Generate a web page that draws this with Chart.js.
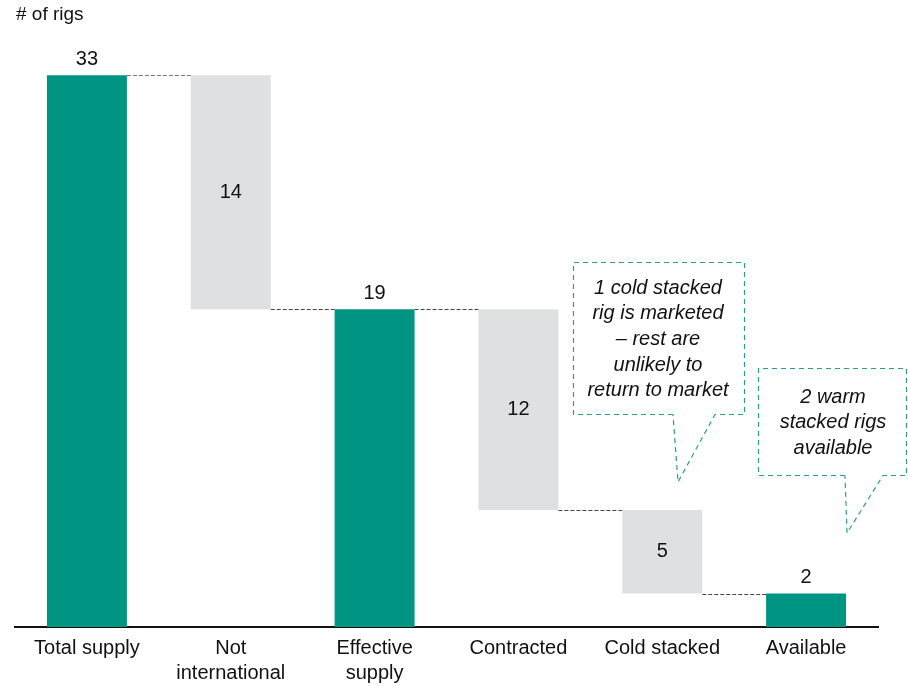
<!DOCTYPE html>
<html>
<head>
<meta charset="utf-8">
<script src="https://cdn.jsdelivr.net/npm/chart.js@4/dist/chart.umd.min.js"></script>
<style>
  html, body { margin: 0; padding: 0; background: #fff; }
  #wrap { width: 908px; height: 686px; position: relative; }
</style>
</head>
<body>
<div id="wrap"><canvas id="myChart"></canvas></div>
<script>
var categories = [['Total supply'], ['Not', 'international'], ['Effective', 'supply'], ['Contracted'], ['Cold stacked'], ['Available']];
var values = [33, -14, 19, -12, -5, 2];
var isTotal = [true, false, true, false, false, true];
var valueLabels = ['33', '14', '19', '12', '5', '2'];
var notes = [
    ['1 cold stacked', 'rig is marketed', '\u2013 rest are', 'unlikely to', 'return to market'],
    ['2 warm', 'stacked rigs', 'available']
];

var teal = '#009482';
var grey = '#dee0e1';
var font = '"Liberation Sans", Arial, sans-serif';

// build floating ranges for the waterfall
var ranges = [];
var level = 0;
for (var i = 0; i < values.length; i++) {
    if (isTotal[i]) {
        ranges.push([0, values[i]]);
        level = values[i];
    } else {
        ranges.push([level + values[i], level]);
        level = level + values[i];
    }
}

function drawNote(ctx, lines, box, tail, cx, cy) {
    ctx.save();
    ctx.strokeStyle = '#2a9d8f';
    ctx.lineWidth = 1.2;
    ctx.setLineDash([5, 4]);
    ctx.beginPath();
    ctx.moveTo(tail[0], box[3]);
    ctx.lineTo(box[0], box[3]);
    ctx.lineTo(box[0], box[1]);
    ctx.lineTo(box[2], box[1]);
    ctx.lineTo(box[2], box[3]);
    ctx.lineTo(tail[2], box[3]);
    ctx.lineTo(tail[4], tail[5]);
    ctx.lineTo(tail[0], box[3]);
    ctx.stroke();
    ctx.setLineDash([]);
    ctx.fillStyle = '#111';
    ctx.font = 'italic 20px ' + font;
    ctx.textAlign = 'center';
    ctx.textBaseline = 'middle';
    for (var k = 0; k < lines.length; k++) {
        ctx.fillText(lines[k], cx, cy + k * 25.7);
    }
    ctx.restore();
}

var extras = {
    id: 'extras',
    afterDatasetsDraw: function (chart) {
        var ctx = chart.ctx;
        var x = chart.scales.x, y = chart.scales.y;
        var meta = chart.getDatasetMeta(0);
        ctx.save();
        // connectors
        ctx.lineWidth = 1;
        ctx.setLineDash([4, 2]);
        for (var i = 0; i < ranges.length - 1; i++) {
            var b1 = meta.data[i], b2 = meta.data[i + 1];
            var lv = isTotal[i] ? ranges[i][1] : ranges[i][0];
            var py = Math.round(y.getPixelForValue(lv)) + 0.5;
            ctx.strokeStyle = i === 0 ? '#777' : '#444';
            ctx.beginPath();
            ctx.moveTo(b1.x + b1.width / 2, py);
            ctx.lineTo(b2.x - b2.width / 2, py);
            ctx.stroke();
        }
        ctx.setLineDash([]);
        // value labels
        ctx.fillStyle = '#111';
        ctx.font = '20px ' + font;
        ctx.textAlign = 'center';
        ctx.textBaseline = 'middle';
        for (var j = 0; j < ranges.length; j++) {
            var bx = meta.data[j].x;
            if (isTotal[j]) {
                ctx.fillText(valueLabels[j], bx, y.getPixelForValue(ranges[j][1]) - 16);
            } else {
                ctx.fillText(valueLabels[j], bx, y.getPixelForValue((ranges[j][0] + ranges[j][1]) / 2));
            }
        }
        // unit label
        ctx.textAlign = 'left';
        ctx.font = '19px ' + font;
        ctx.fillText('# of rigs', 16, 15);
        ctx.restore();

        // callouts
        drawNote(ctx, notes[0], [573.5, 262.5, 744.5, 414.5], [673, 0, 715, 0, 678, 482], 658, 288);
        drawNote(ctx, notes[1], [758.5, 368.5, 906.5, 475.5], [845, 0, 883, 0, 847, 533], 833, 397);
    }
};

var ctx = document.getElementById('myChart');
var myChart = new Chart(ctx, {
    type: 'bar',
    data: {
        labels: categories,
        datasets: [{
            data: ranges,
            backgroundColor: isTotal.map(function (t) { return t ? teal : grey; }),
            borderWidth: 0,
            barPercentage: 0.556,
            categoryPercentage: 1.0,
            borderSkipped: false
        }]
    },
    options: {
        responsive: true,
        maintainAspectRatio: false,
        animation: false,
        layout: { padding: { left: 15, right: 30, top: 0, bottom: -9 } },
        plugins: {
            legend: { display: false },
            tooltip: { enabled: false }
        },
        scales: {
            x: {
                grid: { display: false, drawTicks: false },
                border: { display: true, color: '#111', width: 2 },
                ticks: {
                    color: '#111',
                    padding: 9,
                    maxRotation: 0,
                    autoSkip: false,
                    font: { family: font, size: 20, lineHeight: 1.25 }
                }
            },
            y: {
                display: false,
                min: 0,
                max: 37.5
            }
        }
    },
    plugins: [extras]
});
</script>
</body>
</html>
